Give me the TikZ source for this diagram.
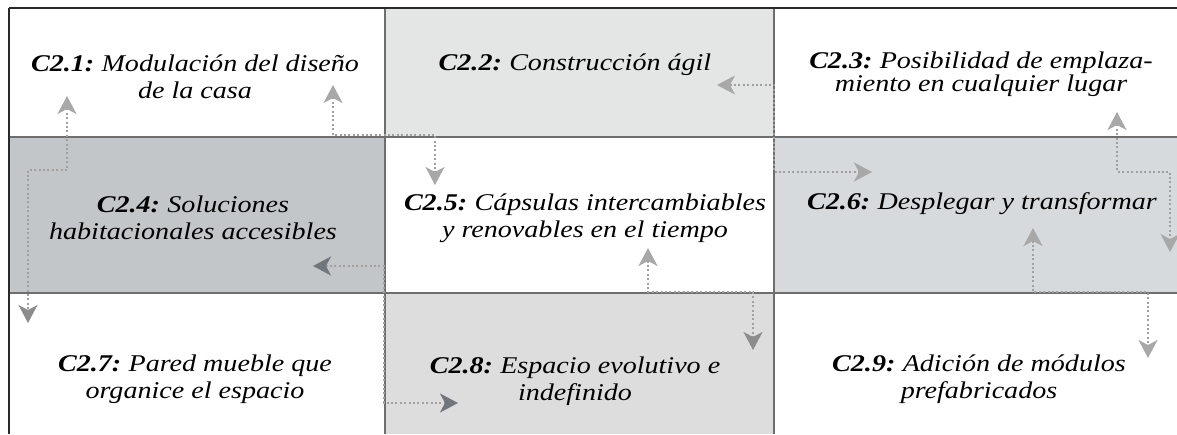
\documentclass[tikz,border=0pt]{standalone}
\usepackage{fontspec}
\setmainfont{Liberation Serif}[FakeStretch=1.17]
\usetikzlibrary{arrows.meta}
\definecolor{gridc}{HTML}{6E6E6E}
\definecolor{framec}{HTML}{2A2A2A}
\definecolor{fillB}{HTML}{E4E5E5}
\definecolor{fillD}{HTML}{C3C6C9}
\definecolor{fillF}{HTML}{D7DADC}
\definecolor{fillH}{HTML}{DDDDDD}
\definecolor{connc}{HTML}{A0A0A0}
\definecolor{tipL}{HTML}{A8A8A8}
\definecolor{tipM}{HTML}{8C8C8C}
\definecolor{tipD}{HTML}{70767B}
\tikzset{
  cell/.style={inner sep=0pt, outer sep=0pt, draw=none, rectangle},
  gridline/.style={draw=gridc, line width=1.5pt},
  frameline/.style={draw=framec, line width=1.8pt},
  label/.style={align=center, inner sep=0pt, font=\fontsize{24}{27}\selectfont\itshape},
  conn/.style={draw=connc, line width=1.6pt, dash pattern=on 2pt off 2.4pt},
}
\newcommand{\cnum}[1]{{\bfseries #1}\hspace{-2pt}}
\begin{document}
\begin{tikzpicture}[x=1pt, y=-1pt]
\useasboundingbox (0,0) rectangle (1177,434);
\fill[white] (0,0) rectangle (1177,434);
% cells
\node[cell, minimum width=376pt, minimum height=129pt] (c1) at (197,72.5) {};
\node[cell, fill=fillB, minimum width=389pt, minimum height=129pt] (c2) at (579.5,72.5) {};
\node[cell, minimum width=403pt, minimum height=129pt] (c3) at (975.5,72.5) {};
\node[cell, fill=fillD, minimum width=376pt, minimum height=156pt] (c4) at (197,215) {};
\node[cell, minimum width=389pt, minimum height=156pt] (c5) at (579.5,215) {};
\node[cell, fill=fillF, minimum width=403pt, minimum height=156pt] (c6) at (975.5,215) {};
\node[cell, minimum width=376pt, minimum height=141pt] (c7) at (197,363.5) {};
\node[cell, fill=fillH, minimum width=389pt, minimum height=141pt] (c8) at (579.5,363.5) {};
\node[cell, minimum width=403pt, minimum height=141pt] (c9) at (975.5,363.5) {};
% grid
\draw[gridline] (c1.south west) -- (c3.south east);
\draw[gridline] (c4.south west) -- (c6.south east);
\draw[gridline] (c1.north east) -- (c7.south east);
\draw[gridline] (c2.north east) -- (c8.south east);
\draw[frameline] (c1.north west) -- (c3.north east);
\draw[frameline] (c1.north west) -- (c7.south west);
% texts
\node[label] (t1) at (195,77) {\cnum{C2.1:} Modulación del diseño\\de la casa};
\node[label] (t2) at (575,65) {\cnum{C2.2:} Construcción ágil};
\node[label, font=\fontsize{24}{21}\selectfont\itshape] (t3) at (981,74) {\cnum{C2.3:} Posibilidad de emplaza-\\miento en cualquier lugar};
\node[label] (t4) at (193,218) {\cnum{C2.4:} Soluciones\\habitacionales accesibles};
\node[label] (t5) at (585,218) {\cnum{C2.5:} Cápsulas intercambiables\\y renovables en el tiempo};
\node[label] (t6) at (982,204) {\cnum{C2.6:} Desplegar y transformar};
\node[label] (t7) at (195,379) {\cnum{C2.7:} Pared mueble que\\organice el espacio};
\node[label] (t8) at (575,381) {\cnum{C2.8:} Espacio evolutivo e\\indefinido};
\node[label] (t9) at (979,379) {\cnum{C2.9:} Adición de módulos\\prefabricados};
% connector end points
\coordinate (p1s) at (67,96);   \coordinate (p1e) at (28,323);
\coordinate (p2s) at (333,85);  \coordinate (p2e) at (435,185);
\coordinate (p3s) at (717,85);  \coordinate (p3e) at (872,172);
\coordinate (p4s) at (1117,112);\coordinate (p4e) at (1170,252);
\coordinate (p5s) at (313,266); \coordinate (p5e) at (458,403);
\coordinate (p6s) at (648,248); \coordinate (p6e) at (753,350);
\coordinate (p7s) at (1033,228);\coordinate (p7e) at (1148,358);
% connectors
\draw[conn, {Stealth[length=18pt, width=19pt, inset=5pt, color=tipL]}-{Stealth[length=18pt, width=19pt, inset=5pt, color=tipM]}] (p1s) -- ++(0,74) -| (p1e);
\draw[conn, {Stealth[length=18pt, width=19pt, inset=5pt, color=tipL]}-{Stealth[length=18pt, width=19pt, inset=5pt, color=tipL]}] (p2s) -- ++(0,50) -| (p2e);
\draw[conn, {Stealth[length=18pt, width=19pt, inset=5pt, color=tipL]}-{Stealth[length=18pt, width=19pt, inset=5pt, color=tipL]}] (p3s) -- ++(57,0) |- (p3e);
\draw[conn, {Stealth[length=18pt, width=19pt, inset=5pt, color=tipL]}-{Stealth[length=18pt, width=19pt, inset=5pt, color=tipL]}] (p4s) -- ++(0,60) -| (p4e);
\draw[conn, {Stealth[length=18pt, width=19pt, inset=5pt, color=tipD]}-{Stealth[length=18pt, width=19pt, inset=5pt, color=tipD]}] (p5s) -- ++(71,0) |- (p5e);
\draw[conn, {Stealth[length=18pt, width=19pt, inset=5pt, color=tipL]}-{Stealth[length=18pt, width=19pt, inset=5pt, color=tipM]}] (p6s) -- ++(0,44) -| (p6e);
\draw[conn, {Stealth[length=18pt, width=19pt, inset=5pt, color=tipL]}-{Stealth[length=18pt, width=19pt, inset=5pt, color=tipL]}] (p7s) -- ++(0,64) -| (p7e);
\end{tikzpicture}
\end{document}
